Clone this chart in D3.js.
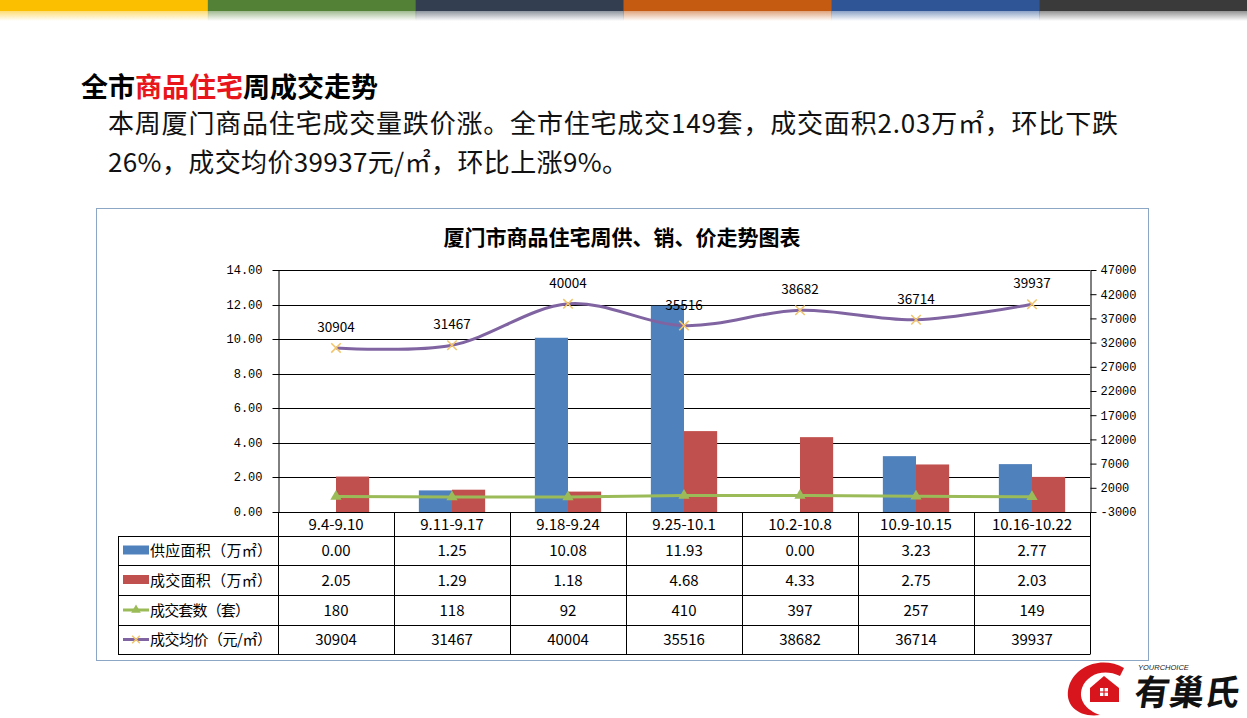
<!DOCTYPE html>
<html><head><meta charset="utf-8">
<script src="https://cdn.jsdelivr.net/npm/d3@7"></script>
<style>
html,body{margin:0;padding:0;background:#fff;}
svg{display:block;}
</style></head>
<body>
<svg id="c" width="1247" height="718"></svg>
<script>
const categories = ["9.4-9.10","9.11-9.17","9.18-9.24","9.25-10.1","10.2-10.8","10.9-10.15","10.16-10.22"];
const supplyArea = [0.00,1.25,10.08,11.93,0.00,3.23,2.77];
const salesArea = [2.05,1.29,1.18,4.68,4.33,2.75,2.03];
const salesUnits = [180,118,92,410,397,257,149];
const avgPrice = [30904,31467,40004,35516,38682,36714,39937];
const leftTicks = [0,2,4,6,8,10,12,14];
const rightTicks = [-3000,2000,7000,12000,17000,22000,27000,32000,37000,42000,47000];
const seriesNames = ["供应面积（万㎡）","成交面积（万㎡）","成交套数（套）","成交均价（元/㎡）"];
const tableRows = [supplyArea.map(v=>v.toFixed(2)), salesArea.map(v=>v.toFixed(2)), salesUnits.map(String), avgPrice.map(String)];
const topBarColors = ["#fcbf00","#538135","#333f50","#c55a11","#2f5597","#3a3a3a"];

const C = {blue:"#4f81bd", red:"#c0504d", green:"#9bbb59", purple:"#8064a2", marker:"#f2c46a"};
const svg = d3.select("#c");
const defs = svg.append("defs");

// top colour bar
const topX = d3.scaleBand().domain(d3.range(topBarColors.length)).range([0,1247]);
topBarColors.forEach((col,i)=>{
  const g = defs.append("linearGradient").attr("id","tg"+i).attr("x1",0).attr("x2",0).attr("y1",0).attr("y2",1);
  g.append("stop").attr("offset",0).attr("stop-color",col).attr("stop-opacity",0.55);
  g.append("stop").attr("offset",1).attr("stop-color",col).attr("stop-opacity",0);
  svg.append("rect").attr("x",topX(i)).attr("y",0).attr("width",topX.bandwidth()+0.5).attr("height",11).attr("fill",col);
  svg.append("rect").attr("x",topX(i)).attr("y",11).attr("width",topX.bandwidth()+0.5).attr("height",10).attr("fill","url(#tg"+i+")");
});

// headings
const cjk = "'Noto Sans CJK SC','Noto Sans',sans-serif";
const h = svg.append("text").attr("x",81).attr("y",97).attr("font-family",cjk).attr("font-weight","bold").attr("font-size",27).attr("fill","#000");
h.append("tspan").text("全市");
h.append("tspan").attr("fill","#e8161b").text("商品住宅");
h.append("tspan").text("周成交走势");
svg.append("text").attr("x",108).attr("y",133).attr("font-family",cjk).attr("font-size",26).attr("fill","#111")
  .attr("textLength",1010).attr("lengthAdjust","spacing")
  .text("本周厦门商品住宅成交量跌价涨。全市住宅成交149套，成交面积2.03万㎡，环比下跌");
svg.append("text").attr("x",108).attr("y",172).attr("font-family",cjk).attr("font-size",26).attr("fill","#111")
  .attr("textLength",520).attr("lengthAdjust","spacing")
  .text("26%，成交均价39937元/㎡，环比上涨9%。");

// chart frame
svg.append("rect").attr("x",96.5).attr("y",208.5).attr("width",1052).attr("height",452).attr("fill","#fff").attr("stroke","#8ca6c6").attr("stroke-width",1);
svg.append("text").attr("x",622).attr("y",245).attr("text-anchor","middle").attr("font-family",cjk).attr("font-weight","bold").attr("font-size",21).attr("fill","#000")
  .text("厦门市商品住宅周供、销、价走势图表");

const x = d3.scaleBand().domain(categories).range([278,1090]);
const xs = d3.scaleBand().domain(["s","d"]).range([0,x.bandwidth()]).paddingInner(0).paddingOuter(0.75);
const y = d3.scaleLinear().domain([0,14]).range([512,270]);
const y2 = d3.scaleLinear().domain([-3000,47000]).range([512,270]);

// gridlines
svg.append("g").selectAll("line").data(leftTicks).join("line")
  .attr("x1",278).attr("x2",1090).attr("y1",d=>Math.round(y(d))+0.5).attr("y2",d=>Math.round(y(d))+0.5)
  .attr("stroke","#000").attr("stroke-width",1);

// left axis
const monoF = "'Liberation Mono','DejaVu Sans Mono',monospace";
const ly = svg.append("g").attr("transform","translate(278.5,0)")
  .call(d3.axisLeft(y).tickValues(leftTicks).tickFormat(d3.format(".2f")).tickSize(6).tickSizeOuter(0).tickPadding(10));
ly.selectAll("text").attr("font-family",monoF).attr("font-size",12).attr("fill","#000");
ly.selectAll("line,path").attr("stroke","#000");
ly.selectAll(".tick").attr("transform",d=>`translate(0,${Math.round(y(d))+0.5})`);

// right axis
const ry = svg.append("g").attr("transform","translate(1090.5,0)")
  .call(d3.axisRight(y2).tickValues(rightTicks).tickFormat(d=>String(d)).tickSize(6).tickSizeOuter(0).tickPadding(4));
ry.selectAll("text").attr("font-family",monoF).attr("font-size",12).attr("fill","#000");
ry.selectAll("line,path").attr("stroke","#000");

// bars
svg.append("g").selectAll("rect").data(supplyArea).join("rect")
  .attr("x",(d,i)=>x(categories[i])+xs("s")).attr("width",xs.bandwidth())
  .attr("y",d=>y(d)).attr("height",d=>y(0)-y(d)).attr("fill",C.blue);
svg.append("g").selectAll("rect").data(salesArea).join("rect")
  .attr("x",(d,i)=>x(categories[i])+xs("d")).attr("width",xs.bandwidth())
  .attr("y",d=>y(d)).attr("height",d=>y(0)-y(d)).attr("fill",C.red);

const cx = i => x(categories[i]) + x.bandwidth()/2;

// units line (green, right axis)
const lineU = d3.line().x((d,i)=>cx(i)).y(d=>y2(d)).curve(d3.curveCatmullRom.alpha(0));
svg.append("path").datum(salesUnits).attr("d",lineU).attr("fill","none").attr("stroke",C.green).attr("stroke-width",3);
const tri = d3.symbol().type(d3.symbolTriangle).size(55);
svg.append("g").selectAll("path").data(salesUnits).join("path")
  .attr("d",tri).attr("transform",(d,i)=>`translate(${cx(i)},${y2(d)})`).attr("fill",C.green);

// price line (purple, right axis)
const lineP = d3.line().x((d,i)=>cx(i)).y(d=>y2(d)).curve(d3.curveCatmullRom.alpha(0));
svg.append("path").datum(avgPrice).attr("d",lineP).attr("fill","none").attr("stroke",C.purple).attr("stroke-width",3);
const cross = d3.symbol().type(d3.symbolX).size(60);
svg.append("g").selectAll("path").data(avgPrice).join("path")
  .attr("d",cross).attr("transform",(d,i)=>`translate(${cx(i)},${y2(d)})`).attr("fill","none").attr("stroke",C.marker).attr("stroke-width",1.5);
svg.append("g").selectAll("text").data(avgPrice).join("text")
  .attr("x",(d,i)=>cx(i)).attr("y",d=>y2(d)-16).attr("text-anchor","middle")
  .attr("font-family",cjk).attr("font-size",13.5).attr("fill","#000").text(d=>d);

// data table
const rowTops = [536,565,595,625,654];
const tg = svg.append("g").attr("stroke","#000").attr("stroke-width",1);
rowTops.forEach(t=>tg.append("line").attr("x1",118).attr("x2",1090).attr("y1",t+0.5).attr("y2",t+0.5));
tg.append("line").attr("x1",118.5).attr("x2",118.5).attr("y1",536).attr("y2",654.5);
categories.forEach((c,i)=>{
  tg.append("line").attr("x1",Math.round(x(c))+0.5).attr("x2",Math.round(x(c))+0.5).attr("y1",512).attr("y2",654.5);
});
tg.append("line").attr("x1",1090.5).attr("x2",1090.5).attr("y1",512).attr("y2",654.5);

svg.append("g").selectAll("text").data(categories).join("text")
  .attr("x",(d)=>x(d)+x.bandwidth()/2).attr("y",530).attr("text-anchor","middle")
  .attr("font-family",cjk).attr("font-size",15).attr("fill","#000").text(d=>d);
const nameLens = [122,122,100,122];
tableRows.forEach((row,r)=>{
  const cyy = (rowTops[r]+rowTops[r+1])/2;
  svg.append("g").selectAll("text").data(row).join("text")
    .attr("x",(d,i)=>cx(i)).attr("y",cyy+5.5).attr("text-anchor","middle")
    .attr("font-family",cjk).attr("font-size",15).attr("fill","#000").text(d=>d);
  svg.append("text").attr("x",150).attr("y",cyy+5.5).attr("font-family",cjk).attr("font-size",15).attr("fill","#000")
    .attr("textLength",nameLens[r]).attr("lengthAdjust","spacing").text(seriesNames[r]);
});
const k0 = (rowTops[0]+rowTops[1])/2, k1=(rowTops[1]+rowTops[2])/2, k2=(rowTops[2]+rowTops[3])/2, k3=(rowTops[3]+rowTops[4])/2;
svg.append("rect").attr("x",123).attr("y",k0-5).attr("width",26).attr("height",9).attr("fill",C.blue);
svg.append("rect").attr("x",123).attr("y",k1-5).attr("width",26).attr("height",9).attr("fill",C.red);
svg.append("line").attr("x1",123).attr("x2",149).attr("y1",k2).attr("y2",k2).attr("stroke",C.green).attr("stroke-width",3);
svg.append("path").attr("d",d3.symbol().type(d3.symbolTriangle).size(40)).attr("transform",`translate(136,${k2})`).attr("fill",C.green);
svg.append("line").attr("x1",123).attr("x2",149).attr("y1",k3).attr("y2",k3).attr("stroke",C.purple).attr("stroke-width",3);
svg.append("path").attr("d",d3.symbol().type(d3.symbolX).size(40)).attr("transform",`translate(136,${k3})`).attr("fill","none").attr("stroke",C.marker).attr("stroke-width",1.5);

// logo
const lg = svg.append("g");
lg.append("path").attr("d","M1124,668 C1104,656 1076,664 1069,686 C1063,706 1080,718 1100,715 C1086,710 1078,700 1082,688 C1087,674 1104,668 1120,676 Z").attr("fill","#d8141c");
lg.append("path").attr("d","M1090,702 L1090,688 L1104,676 L1119,688 L1119,702 Z").attr("fill","#d8141c");
lg.append("rect").attr("x",1100).attr("y",688).attr("width",8).attr("height",8).attr("fill","#fff");
lg.append("line").attr("x1",1104).attr("x2",1104).attr("y1",688).attr("y2",696).attr("stroke","#d8141c").attr("stroke-width",1.2);
lg.append("line").attr("x1",1100).attr("x2",1108).attr("y1",692).attr("y2",692).attr("stroke","#d8141c").attr("stroke-width",1.2);
lg.append("text").attr("x",1138).attr("y",670).attr("font-family","'Liberation Sans',sans-serif").attr("font-style","italic").attr("font-size",7.5).attr("fill","#222").text("YOURCHOICE");
lg.append("text").attr("x",1133).attr("y",705).attr("font-family",cjk).attr("font-weight","bold").attr("font-size",35).attr("fill","#111").attr("transform","skewX(-8) translate(99,0)").text("有巢氏");
</script>
</body></html>
